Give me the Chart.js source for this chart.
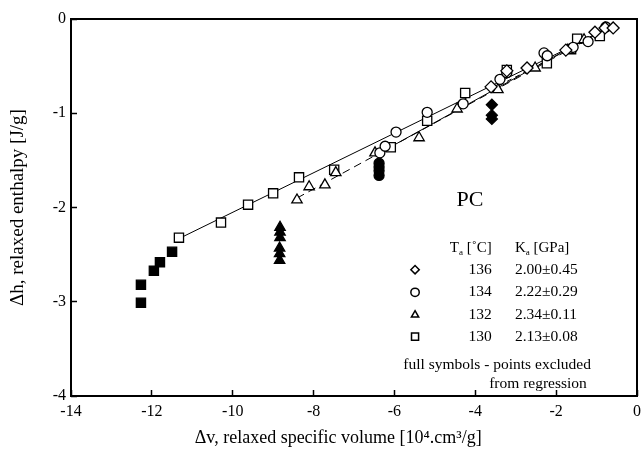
<!DOCTYPE html>
<html>
<head>
<meta charset="utf-8">
<script src="https://cdn.jsdelivr.net/npm/chart.js@4.4.0/dist/chart.umd.min.js"></script>
<style>
  html, body { margin: 0; padding: 0; background: #fff; }
</style>
</head>
<body>
<canvas id="c" width="641" height="453"></canvas>
<script>
/* PC relaxed enthalpy vs relaxed specific volume, four ageing temperatures. */

// Ta = 130 C (squares)
const SQ_X = [-11.33, -10.29, -9.62, -9.00, -8.36, -7.49, -6.09, -5.19, -4.25, -3.22, -2.23, -1.63, -1.48, -0.92];
const SQ_Y = [-2.32, -2.16, -1.97, -1.85, -1.68, -1.60, -1.36, -1.08, -0.785, -0.54, -0.47, -0.32, -0.21, -0.18];
const SQ_FULL_X = [-11.50, -11.80, -11.95, -12.27, -12.27];
const SQ_FULL_Y = [-2.47, -2.58, -2.67, -2.82, -3.01];

// Ta = 132 C (triangles)
const TR_X = [-8.41, -8.11, -7.72, -7.45, -6.48, -5.39, -4.45, -3.44, -2.52, -1.71, -1.31];
const TR_Y = [-1.92, -1.78, -1.76, -1.63, -1.42, -1.26, -0.955, -0.75, -0.52, -0.33, -0.22];
const TR_FULL_X = [-8.83, -8.83, -8.83, -8.84, -8.84, -8.84];
const TR_FULL_Y = [-2.21, -2.26, -2.32, -2.43, -2.49, -2.56];

// Ta = 134 C (circles)
const CI_X = [-6.36, -6.23, -5.96, -5.19, -4.30, -3.39, -3.22, -2.30, -2.22, -1.58, -1.21, -0.77];
const CI_Y = [-1.42, -1.35, -1.20, -0.99, -0.90, -0.64, -0.57, -0.36, -0.39, -0.30, -0.24, -0.085];
const CI_FULL_X = [-6.38, -6.38, -6.38, -6.38];
const CI_FULL_Y = [-1.53, -1.57, -1.61, -1.66];

// Ta = 136 C (diamonds)
const DI_X = [-3.61, -3.22, -2.72, -1.76, -1.04, -0.79, -0.59];
const DI_Y = [-0.72, -0.55, -0.52, -0.33, -0.14, -0.095, -0.095];
const DI_FULL_X = [-3.59, -3.59, -3.59];
const DI_FULL_Y = [-0.91, -1.02, -1.06];

// regression lines, end points [x0, x1], [y0, y1]
const FIT130_X = [-11.33, -0.70], FIT130_Y = [-2.33, -0.10];
const FIT132_X = [-8.41, -0.80],  FIT132_Y = [-1.90, -0.12];
const FIT134_X = [-6.36, -0.70],  FIT134_Y = [-1.42, -0.08];
const FIT136_X = [-3.61, -0.60],  FIT136_Y = [-0.75, -0.08];

// legend table
const LEG_TEMPS = ["136", "134", "132", "130"];
const LEG_KA = ["2.00±0.45", "2.22±0.29", "2.34±0.11", "2.13±0.08"];
const LEG_STYLES = ["rectRot", "circle", "triangle", "rect"];

const X_TICKS = [-14, -12, -10, -8, -6, -4, -2, 0];
const Y_TICKS = [-4, -3, -2, -1, 0];

const SERIF = "'Liberation Serif', 'DejaVu Serif', serif";
const pts = (xs, ys) => xs.map((x, i) => ({ x, y: ys[i] }));

function marks(data, style, r, filled) {
  return {
    type: "scatter", data, pointStyle: style, pointRadius: r, pointHoverRadius: r,
    borderColor: "#000", backgroundColor: filled ? "#000" : "#fff", pointBorderWidth: 1.3,
  };
}
function fit(data, dash) {
  return {
    type: "line", data, showLine: true, pointRadius: 0, borderColor: "#000",
    borderWidth: 1, borderDash: dash, fill: false,
  };
}
// fixed axis boxes: no extra room for overhanging labels
function noPad(s) {
  s.paddingLeft = s.paddingRight = s.paddingTop = s.paddingBottom = 0;
}

const frame = {
  id: "frame",
  beforeDatasetsDraw(chart) {
    const { ctx, chartArea: a } = chart;
    ctx.save();
    ctx.strokeStyle = "#000";
    ctx.lineWidth = 2;
    ctx.strokeRect(a.left, a.top, a.right - a.left, a.bottom - a.top);
    ctx.restore();
  },
};

// "PC" and the temperature / Ka table inside the plot
const notes = {
  id: "notes",
  afterDraw(chart) {
    const { ctx } = chart;
    const sx = chart.scales.x, sy = chart.scales.y;
    const X = v => sx.getPixelForValue(v), Y = v => sy.getPixelForValue(v);
    ctx.save();
    ctx.fillStyle = "#000";
    ctx.textBaseline = "middle";

    ctx.font = "22px " + SERIF;
    ctx.textAlign = "center";
    ctx.fillText("PC", X(-4.13), Y(-1.92));

    function sub(main, s, rest, x, y) {
      ctx.textAlign = "left";
      ctx.font = "15px " + SERIF;
      ctx.fillText(main, x, y);
      let w = ctx.measureText(main).width;
      ctx.font = "9px " + SERIF;
      ctx.fillText(s, x + w, y + 5);
      w += ctx.measureText(s).width;
      ctx.font = "15px " + SERIF;
      ctx.fillText(rest, x + w, y);
    }
    sub("T", "a", " [˚C]", X(-4.63), Y(-2.43));
    sub("K", "a", " [GPa]", X(-3.02), Y(-2.43));

    const rowY = [-2.66, -2.90, -3.14, -3.37];
    LEG_TEMPS.forEach((t, i) => {
      const y = Y(rowY[i]);
      ctx.fillStyle = "#fff";
      ctx.strokeStyle = "#000";
      ctx.lineWidth = 1.5;
      Chart.helpers.drawPoint(ctx, { pointStyle: LEG_STYLES[i], radius: LEG_STYLES[i] === "rect" ? 5 : 4.2, rotation: 0, borderWidth: 1.5 }, X(-5.49), y);
      ctx.fillStyle = "#000";
      ctx.font = "15.5px " + SERIF;
      ctx.textAlign = "right";
      ctx.fillText(t, X(-3.59), y);
      ctx.textAlign = "left";
      ctx.fillText(LEG_KA[i], X(-3.02), y);
    });

    ctx.textAlign = "center";
    ctx.fillText("full symbols - points excluded", X(-3.46), Y(-3.67));
    ctx.textAlign = "right";
    ctx.fillText("from regression", X(-1.24), Y(-3.87));
    ctx.restore();
  },
};

new Chart(document.getElementById("c"), {
  type: "scatter",
  data: {
    datasets: [
      marks(pts(SQ_FULL_X, SQ_FULL_Y), "rect", 6.5, true),
      marks(pts(TR_FULL_X, TR_FULL_Y), "triangle", 6, true),
      marks(pts(CI_FULL_X, CI_FULL_Y), "circle", 5, true),
      marks(pts(DI_FULL_X, DI_FULL_Y), "rectRot", 5.5, true),
      marks(pts(DI_X, DI_Y), "rectRot", 6, false),
      marks(pts(CI_X, CI_Y), "circle", 5, false),
      marks(pts(TR_X, TR_Y), "triangle", 6, false),
      marks(pts(SQ_X, SQ_Y), "rect", 6.5, false),
      fit(pts(FIT130_X, FIT130_Y), []),
      fit(pts(FIT132_X, FIT132_Y), [8, 5]),
      fit(pts(FIT134_X, FIT134_Y), []),
      fit(pts(FIT136_X, FIT136_Y), [5, 4]),
    ],
  },
  options: {
    responsive: false, animation: false,
    layout: { autoPadding: false, padding: { top: 19, right: 4, left: 0, bottom: 0 } },
    plugins: { legend: { display: false }, tooltip: { enabled: false } },
    scales: {
      x: {
        type: "linear", min: -14, max: 0,
        afterBuildTicks: s => { s.ticks = X_TICKS.map(v => ({ value: v })); },
        afterFit: s => { s.height = 57; noPad(s); },
        border: { display: false },
        grid: { drawOnChartArea: false, drawTicks: true, tickLength: -6, tickColor: "#000", tickWidth: 1.5 },
        ticks: { color: "#000", font: { family: SERIF, size: 16 }, padding: 12, maxRotation: 0 },
        // trailing spaces nudge the centred title a little left, as in the source figure
        title: { display: true, text: "Δv, relaxed specific volume [10⁴.cm³/g]\u00a0\u00a0\u00a0\u00a0\u00a0\u00a0\u00a0", color: "#000",
                 font: { family: SERIF, size: 18 }, padding: { bottom: 4 } },
      },
      y: {
        type: "linear", min: -4, max: 0,
        afterBuildTicks: s => { s.ticks = Y_TICKS.map(v => ({ value: v })); },
        afterFit: s => { s.width = 71; noPad(s); },
        border: { display: false },
        grid: { drawOnChartArea: false, drawTicks: true, tickLength: -6, tickColor: "#000", tickWidth: 1.5 },
        ticks: { color: "#000", font: { family: SERIF, size: 16 }, padding: 11 },
        title: { display: true, text: "Δh, relaxed enthalpy [J/g]", color: "#000",
                 font: { family: SERIF, size: 19 }, padding: { top: 7 } },
      },
    },
  },
  plugins: [frame, notes],
});
</script>
</body>
</html>
